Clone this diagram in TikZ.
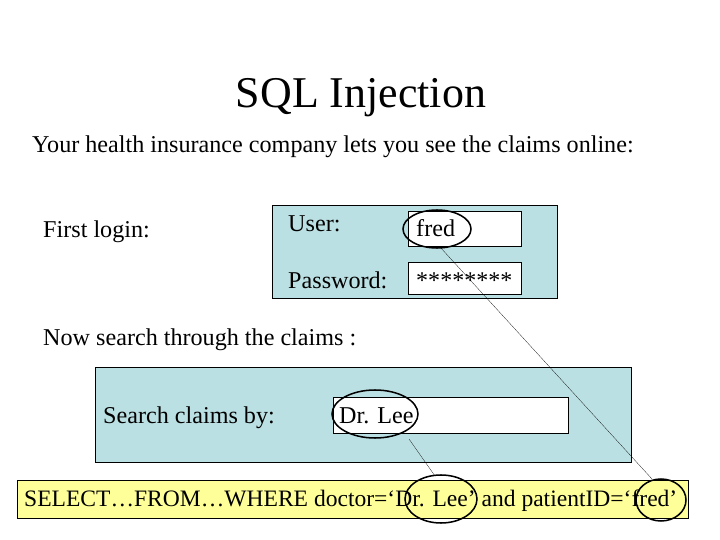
\documentclass[tikz,border=0pt]{standalone}
\usepackage{fontspec}
\setmainfont{Liberation Serif}
\usetikzlibrary{positioning}
\definecolor{formblue}{RGB}{187,224,227}
\definecolor{sqlyellow}{RGB}{255,255,153}

\begin{document}
\begin{tikzpicture}[x = 0.03cm, y = -0.03cm, font=\fontsize{20.6}{24}\selectfont]
    \tikzset{
      panel/.style = {draw, thin, fill=formblue},
      field/.style = {draw, thin, fill=white},
      label/.style = {anchor=base west, inner sep=0pt},
      ring/.style = {draw, line width=1.3pt},
      link/.style = {draw, very thin}
    }
    \useasboundingbox (0,0) rectangle (720,540);

    \node[font=\fontsize{37.5}{40}\selectfont, anchor=base] (title) at (361,108) {SQL Injection};
    \node[label] (intro) at (32,153) {Your health insurance company lets you see the claims online:};

    % login form
    \node[label] (first) at (43,238) {First login:};
    \path[panel] (272,205) rectangle (557,298);
    \node[label] (user) at (288,232) {User:};
    \node[label] (pass) at (288,289) {Password:};
    \path[field] (408,211) rectangle (521,246);
    \path[field] (408,262) rectangle (521,294);
    \node[label] (fred) at (416,237) {fred};
    \node[label, font=\fontsize{20.5}{24}\selectfont] (stars) at (416,289) {********};
    \draw[ring] (437,229) ellipse (34 and 19);
    \coordinate (fredring) at (440,247);

    % search form
    \node[label] (now) at (43,346) {Now search through the claims :};
    \path[panel] (95,367) rectangle (631,462);
    \node[label] (search) at (103,423) {Search claims by:};
    \path[field] (333,397) rectangle (568,433);
    \node[label] (lee) at (339,423) {Dr. Lee};
    \draw[ring] (375,414) ellipse (43 and 24);
    \coordinate (leering) at (409,439);

    % resulting query
    \path[draw, thin, fill=sqlyellow] (17,480) rectangle (688,518);
    \node[label, font=\fontsize{20.1}{24}\selectfont] (query) at (24,506) {SELECT\ldots FROM\ldots WHERE doctor=‘Dr. Lee’ and patientID=‘fred’};
    \draw[ring] (441,499) ellipse (36 and 24);
    \draw[ring] (661,500) ellipse (25 and 21);
    \coordinate (leesql) at (435,476);
    \coordinate (fredsql) at (652,479);

    \draw[link] (fredring) -- (fredsql);
    \draw[link] (leering) -- (leesql);
\end{tikzpicture}
\end{document}
